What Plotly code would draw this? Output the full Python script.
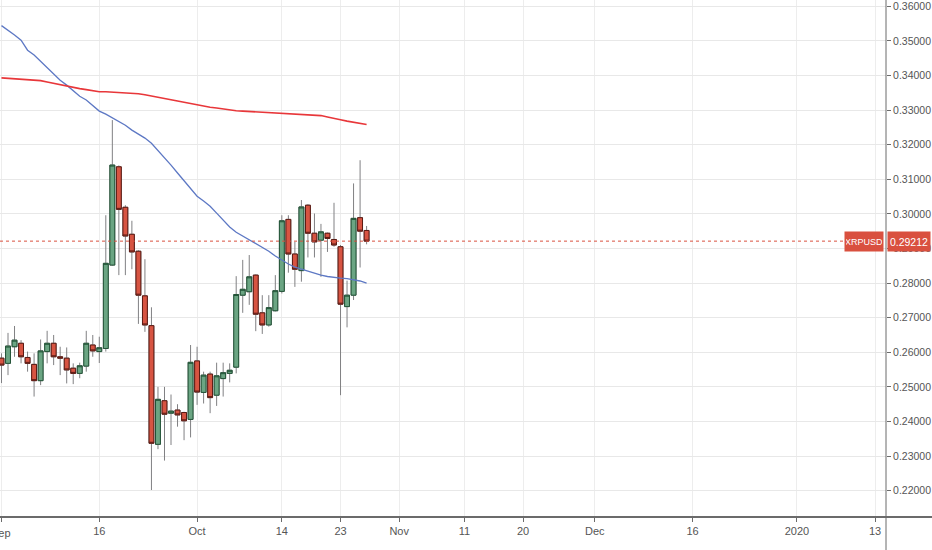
import pandas as pd
import plotly.graph_objects as go

# daily XRPUSD candles, 2019-09-01 .. 2019-10-27
start_day = "2019-09-01"

opens = [0.2583, 0.2568, 0.2616, 0.2626, 0.2585, 0.2565, 0.2518, 0.2602, 0.2626, 0.2587,
         0.2583, 0.2554, 0.2539, 0.2560, 0.2621, 0.2602, 0.2611, 0.2852, 0.3136, 0.3019,
         0.2941, 0.2892, 0.2763, 0.2677, 0.2334, 0.2460, 0.2424, 0.2433, 0.2426, 0.2406,
         0.2575, 0.2484, 0.2537, 0.2476, 0.2524, 0.2539, 0.2557, 0.2765, 0.2775, 0.2823,
         0.2714, 0.2679, 0.2720, 0.2776, 0.2984, 0.2884, 0.2836, 0.3025, 0.2944, 0.2924,
         0.2944, 0.2926, 0.2905, 0.2732, 0.2765, 0.2989, 0.2952]
highs = [0.2597, 0.2656, 0.2676, 0.2635, 0.2602, 0.2597, 0.2637, 0.2662, 0.2650, 0.2616,
         0.2614, 0.2568, 0.2570, 0.2662, 0.2650, 0.2645, 0.2996, 0.3271, 0.3140, 0.3025,
         0.2980, 0.2895, 0.2869, 0.2730, 0.2500, 0.2500, 0.2478, 0.2450, 0.2428, 0.2621,
         0.2616, 0.2544, 0.2544, 0.2570, 0.2570, 0.2568, 0.2820, 0.2867, 0.2881, 0.2825,
         0.2765, 0.2765, 0.2823, 0.2996, 0.2996, 0.2919, 0.3040, 0.3028, 0.3001, 0.2971,
         0.2946, 0.3032, 0.2910, 0.2807, 0.3088, 0.3155, 0.2965]
lows = [0.2511, 0.2534, 0.2587, 0.2568, 0.2544, 0.2472, 0.2505, 0.2568, 0.2563, 0.2534,
        0.2510, 0.2508, 0.2525, 0.2544, 0.2587, 0.2569, 0.2602, 0.2850, 0.2823, 0.2823,
        0.2840, 0.2682, 0.2659, 0.2202, 0.2320, 0.2287, 0.2332, 0.2385, 0.2346, 0.2354,
        0.2448, 0.2452, 0.2424, 0.2445, 0.2472, 0.2513, 0.2539, 0.2714, 0.2737, 0.2661,
        0.2653, 0.2674, 0.2718, 0.2770, 0.2830, 0.2789, 0.2804, 0.2874, 0.2874, 0.2818,
        0.2890, 0.2905, 0.2476, 0.2672, 0.2751, 0.2845, 0.2912]
closes = [0.2563, 0.2618, 0.2635, 0.2587, 0.2568, 0.2518, 0.2604, 0.2626, 0.2587, 0.2583,
          0.2549, 0.2539, 0.2561, 0.2626, 0.2604, 0.2613, 0.2857, 0.3141, 0.3013, 0.2936,
          0.2890, 0.2765, 0.2679, 0.2337, 0.2464, 0.2421, 0.2430, 0.2419, 0.2402, 0.2571,
          0.2485, 0.2534, 0.2469, 0.2532, 0.2541, 0.2548, 0.2767, 0.2782, 0.2818, 0.2710,
          0.2679, 0.2729, 0.2778, 0.2980, 0.2884, 0.2840, 0.3020, 0.2944, 0.2919, 0.2948,
          0.2929, 0.2910, 0.2739, 0.2765, 0.2987, 0.2950, 0.29212]

# moving averages
ma_fast = [0.3544, 0.3531, 0.3517, 0.3502, 0.3473, 0.3459, 0.3441, 0.3424, 0.3404, 0.3386,
           0.3372, 0.3355, 0.3340, 0.3329, 0.3314, 0.3297, 0.3288, 0.3277, 0.3268, 0.3256,
           0.3242, 0.3230, 0.3219, 0.3204, 0.3184, 0.3164, 0.3141, 0.3118, 0.3095, 0.3072,
           0.3051, 0.3037, 0.3022, 0.3002, 0.2982, 0.2962, 0.2947, 0.2936, 0.2927, 0.2915,
           0.2904, 0.2892, 0.2878, 0.2866, 0.2855, 0.2846, 0.2840, 0.2835, 0.2829, 0.2823,
           0.2819, 0.2816, 0.2814, 0.2813, 0.2810, 0.2806, 0.2800]
ma_slow = [0.3393, 0.3392, 0.3390, 0.3389, 0.3388, 0.3386, 0.3385, 0.3381, 0.3377, 0.3372,
           0.3368, 0.3365, 0.3362, 0.3359, 0.3356, 0.3353, 0.3353, 0.3352, 0.3352, 0.3351,
           0.3349, 0.3347, 0.3344, 0.3341, 0.3337, 0.3333, 0.3330, 0.3326, 0.3322, 0.3318,
           0.3314, 0.3311, 0.3308, 0.3306, 0.3303, 0.3300, 0.3298, 0.3297, 0.3296, 0.3295,
           0.3294, 0.3294, 0.3293, 0.3292, 0.3291, 0.3290, 0.3289, 0.3288, 0.3287, 0.3284,
           0.3280, 0.3275, 0.3272, 0.3268, 0.3265, 0.3262, 0.3258]

tick_dates = ["2019-09-01", "2019-09-16", "2019-10-01", "2019-10-14", "2019-10-23",
              "2019-11-01", "2019-11-11", "2019-11-20", "2019-12-01", "2019-12-16",
              "2020-01-01", "2020-01-13"]
tick_text = ["Sep", "16", "Oct", "14", "23", "Nov", "11", "20", "Dec", "16", "2020", "13"]
symbol = "XRPUSD"

days = pd.date_range(start_day, periods=len(opens), freq="D")
body_hi = [max(o, c) for o, c in zip(opens, closes)]
body_lo = [min(o, c) for o, c in zip(opens, closes)]

FONT = "Liberation Sans, Arial, sans-serif"
AXIS_TXT = "#555555"
WICK = "#808083"
UP_FILL, UP_LINE = "#6ba583", "#225437"
DN_FILL, DN_LINE = "#d75442", "#5b1a13"
TAG = "#d9503f"

fig = go.Figure()

# wicks (grey) first, bodies drawn on top
fig.add_trace(go.Candlestick(
    x=days, open=opens, high=highs, low=lows, close=closes,
    increasing=dict(line=dict(color=WICK, width=1), fillcolor=WICK),
    decreasing=dict(line=dict(color=WICK, width=1), fillcolor=WICK),
    showlegend=False, hoverinfo="skip"))
fig.add_trace(go.Candlestick(
    x=days, open=opens, high=body_hi, low=body_lo, close=closes,
    increasing=dict(line=dict(color=UP_LINE, width=1), fillcolor=UP_FILL),
    decreasing=dict(line=dict(color=DN_LINE, width=1), fillcolor=DN_FILL),
    showlegend=False, hoverinfo="skip"))

fig.add_trace(go.Scatter(x=days, y=ma_fast, mode="lines",
                         line=dict(color="#5d78c4", width=1.3),
                         showlegend=False, hoverinfo="skip"))
fig.add_trace(go.Scatter(x=days, y=ma_slow, mode="lines",
                         line=dict(color="#e8373a", width=1.6),
                         showlegend=False, hoverinfo="skip"))

last = closes[-1]

# last price line + tags
fig.add_shape(type="line", xref="paper", yref="y", x0=0, x1=0.957, y0=last, y1=last,
              line=dict(color=TAG, width=1, dash="dot"))
fig.add_annotation(xref="paper", yref="y", x=1, y=last, xanchor="right", yanchor="middle",
                   xshift=-2, text=symbol, showarrow=False, bgcolor=TAG,
                   width=36, height=17, borderpad=1,
                   font=dict(family=FONT, size=9, color="white"))
fig.add_annotation(xref="paper", yref="y", x=1, y=last, xanchor="left", yanchor="middle",
                   xshift=1, text=f"{last:.5f}", showarrow=False, bgcolor=TAG,
                   width=40, height=17, borderpad=1,
                   font=dict(family=FONT, size=10.5, color="white"))

# first month label sits on the left edge and is cut by it, as in the original
fig.add_annotation(xref="x", yref="paper", x=tick_dates[0], y=0, xanchor="center",
                   yanchor="top", yshift=-8, text=tick_text[0], showarrow=False,
                   font=dict(family=FONT, size=11, color=AXIS_TXT))

# axis lines running past the plot corner, as on the original
fig.add_shape(type="line", xref="paper", yref="paper", x0=0, x1=1.06, y0=0, y1=0,
              line=dict(color="#6b6b6b", width=2))
fig.add_shape(type="line", xref="paper", yref="paper", x0=1, x1=1, y0=-0.07, y1=1,
              line=dict(color="#6b6b6b", width=1))

fig.update_xaxes(
    type="date", range=["2019-08-31 18:30", "2020-01-14 16:00"],
    tickvals=tick_dates, ticktext=[""] + tick_text[1:],
    showgrid=True, gridcolor="#ededed", gridwidth=1,
    ticks="outside", ticklen=4, tickcolor="#6b6b6b",
    tickfont=dict(family=FONT, size=11, color=AXIS_TXT),
    showline=False, zeroline=False, rangeslider=dict(visible=False),
    automargin=False, fixedrange=True)
fig.update_yaxes(
    side="right", range=[0.2124, 0.3618], tick0=0.22, dtick=0.01,
    tickformat=".5f", ticklabeloverflow="allow",
    showgrid=True, gridcolor="#e8e8e8", gridwidth=1,
    ticks="outside", ticklen=4, tickcolor="#6b6b6b",
    tickfont=dict(family=FONT, size=10.5, color=AXIS_TXT),
    showline=False, zeroline=False, automargin=False, fixedrange=True)

fig.update_layout(
    width=932, height=550,
    margin=dict(l=0, r=46, t=0, b=33),
    paper_bgcolor="white", plot_bgcolor="white",
    boxgap=0.25, boxgroupgap=0,
    hovermode=False, showlegend=False,
    font=dict(family=FONT, size=11, color=AXIS_TXT))

fig.write_html("out.html", config={"displayModeBar": False},
               post_script="document.body.style.margin='0';")
